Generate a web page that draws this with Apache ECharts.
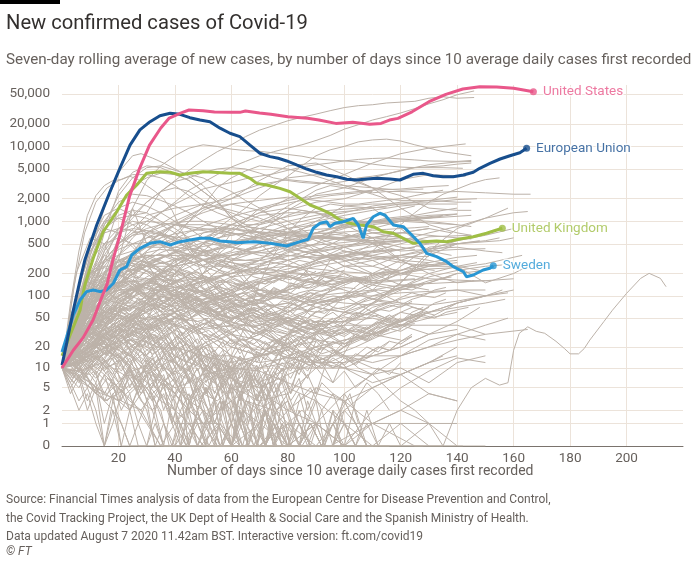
<!DOCTYPE html>
<html><head><meta charset="utf-8">
<script src="https://cdn.jsdelivr.net/npm/echarts@6/dist/echarts.min.js"></script>
<style>html,body{margin:0;padding:0;background:#fff}#c{width:700px;height:563px}</style>
</head><body><div id="c"></div>
<script>
// ---- tick labels ----
const yTicks = [0,1,2,5,10,20,50,100,200,500,1000,2000,5000,10000,20000,50000];
const xTicks = [20,40,60,80,100,120,140,160,180,200];

// ---- highlighted series: [day, 7-day avg new cases] ----
const usData = [[0,10],[4,18],[7.5,27],[11,47],[14.5,105],[16,145],[18,300],[20.5,650],[24,2200],[27.5,5100],[31,10400],[35,17600],[38,23900],[42,27900],[45,30600],[50,30000],[54,28800],[60,28600],[63,28500],[65,29700],[70,28000],[74,26800],[80,24900],[87,23700],[91,22500],[97,20300],[103,21000],[109,19700],[113,20300],[116,22500],[119,23700],[124,29000],[130,39500],[136,49600],[142,58400],[148,62700],[154,62100],[160,59700],[165,55500],[167,53700]];
const euData = [[0,11],[1.7,23],[4,64],[6.4,163],[8.1,303],[8.7,354],[12.3,892],[17,2480],[20.5,5100],[24.1,10400],[27.6,16600],[31.2,21400],[34.7,25700],[38.3,27700],[41.8,26800],[45.3,24200],[48.9,22500],[52.4,21400],[56,17500],[59.5,15000],[63,13500],[66.6,10400],[70.1,8100],[73.7,7300],[76.6,6940],[79.6,6390],[83.1,5650],[86.7,4990],[90.2,4510],[93.7,4150],[97.3,3940],[100.9,3640],[104.4,3560],[107.9,3670],[111.5,3750],[116.2,3670],[119.7,3560],[124.4,4240],[128,4370],[131.5,4060],[135,3940],[138.6,3940],[142.2,4150],[145.7,4510],[148,5100],[151.6,5950],[155.2,6790],[158.7,7510],[162.2,8240],[164.6,9440]];
const ukData = [[0,15],[3,30],[6.4,64],[7.5,109],[8.1,140],[11.1,323],[14.6,725],[19.4,1340],[22.9,2240],[26.5,3050],[30,4370],[34.7,4590],[38.3,4510],[41.8,4150],[45.3,4370],[50,4590],[53.6,4510],[59.5,4370],[63,4370],[66.6,3750],[69,3210],[72.5,3050],[77.2,2750],[80.8,2480],[84.3,2030],[87.9,1650],[91.4,1460],[94.9,1280],[98.5,1040],[102,940],[105.6,892],[110.3,847],[113.8,725],[117.4,690],[120.9,592],[124.4,507],[128,534],[132.7,545],[136.3,534],[141,580],[145.7,622],[150.4,691],[154,765],[156,806]];
const seData = [[0,17],[1.7,28],[4,55],[6.4,88],[8.7,114],[11.1,120],[13.5,114],[15.8,120],[18.2,148],[20.5,223],[22.9,247],[24.7,354],[27.6,435],[31.2,507],[34.7,534],[38.3,482],[41.8,534],[45.3,562],[48.9,592],[52.4,592],[56,545],[59.5,534],[61.9,517],[67.8,534],[73.7,507],[79.6,467],[84.3,534],[87.2,574],[89,806],[91.4,940],[93.8,987],[94.9,847],[96.7,940],[99.6,987],[103.2,1095],[105,892],[106.7,592],[107.9,892],[110.3,1150],[112.6,1280],[114.4,1210],[117.4,892],[120.9,847],[123.3,691],[126.8,507],[129.2,373],[132.7,336],[136.3,288],[138.6,247],[142.2,211],[143.3,181],[145.7,191],[149.2,223],[151.6,235],[152.8,254]];
const highlightNames = ['United Kingdom','Sweden','European Union','United States'];

// ---- grey background lines (other countries), [day, value] pairs ----
const greyLarge = [
[[0,10],[3,80],[6,400],[9,1200],[12,2200],[15,3000],[18,3500],[21,3600],[24,4000],[27,3600],[30,3000],[33,2500],[36,2000],[39,1400],[42,800],[45,500],[50,180],[55,80],[60,40],[65,25],[70,30],[75,40],[80,50],[85,45],[90,35],[95,20],[100,15],[105,10],[110,8],[115,5],[120,3],[125,2],[130,1],[135,0],[140,2],[145,5],[150,7],[155,5.5],[158,6],[160,18],[162,31],[165,38],[168,33],[171,31],[175,24],[178,19],[180,16],[183,16],[185,19],[187,25],[192,45],[195,64],[200,108],[205,172],[208,201],[212,172],[214,133]],
[[0,10],[5,60],[10,250],[15,900],[20,2200],[25,3800],[30,5200],[35,5500],[40,4800],[45,4200],[50,3800],[55,3000],[60,2500],[65,1900],[70,1500],[75,1100],[80,800],[85,550],[90,400],[95,320],[100,250],[105,220],[110,190],[115,210],[120,200],[130,230],[140,240],[150,270],[160,330],[163,350]],
[[0,10],[5,60],[10,350],[15,1500],[20,4500],[25,7500],[28,8000],[32,7000],[36,6000],[40,5000],[45,4000],[50,3000],[55,1900],[60,1100],[65,800],[70,500],[75,350],[80,300],[85,250],[90,150],[95,300],[100,350],[105,300],[110,400],[115,600],[120,900],[125,1300],[130,1800],[135,2300],[140,2700],[145,3200],[150,3600],[155,3800]],
[[0,10],[5,40],[10,150],[15,700],[20,2500],[25,4500],[30,5500],[35,5200],[40,4300],[45,3500],[50,2500],[55,1800],[60,1200],[65,900],[70,700],[75,600],[80,500],[85,400],[90,350],[95,330],[100,350],[105,400],[110,500],[115,450],[120,400],[130,420],[140,550],[150,650],[160,800]],
[[0,10],[5,30],[10,100],[15,400],[20,1500],[25,3000],[30,3800],[35,4400],[40,4200],[45,3500],[50,2500],[55,1800],[60,1100],[65,800],[70,700],[75,500],[80,420],[90,380],[100,450],[110,500],[120,550],[130,700],[140,850],[150,1100],[158,1500]],
[[0,10],[5,80],[10,500],[15,1200],[20,1500],[25,1200],[30,1300],[35,2500],[40,2800],[45,2500],[50,1900],[55,1500],[60,1300],[65,1100],[70,1000],[75,1200],[80,1600],[85,2000],[90,2600],[95,3000],[100,2800],[105,2600],[110,2400],[115,2500],[120,2500],[130,2400],[140,2500],[150,2400],[160,2300],[166,2300]],
[[0,10],[4,120],[8,700],[12,1800],[16,2800],[20,3500],[25,4200],[30,4200],[35,3800],[40,3000],[45,2200],[50,1600],[55,1300],[60,1100],[65,900],[70,900],[75,1000],[80,1200],[85,1400],[90,1300],[95,1200],[100,1100],[105,1000],[110,950],[115,950],[120,1000],[125,1100],[134,1150]],
[[0,10],[5,40],[10,150],[15,350],[20,700],[25,1100],[30,1800],[35,2500],[40,3500],[45,4800],[50,6500],[55,8500],[60,10500],[65,13500],[70,16500],[75,19000],[80,22000],[85,24500],[90,27000],[95,30000],[100,33000],[105,35000],[110,36000],[115,38000],[120,39000],[125,40000],[130,44000],[135,46000],[140,44000],[146,45000]],
[[0,10],[5,40],[10,100],[15,300],[20,500],[25,700],[30,1000],[35,1300],[40,1800],[45,2600],[50,3300],[55,4200],[60,5300],[65,6300],[70,7500],[75,8500],[80,9500],[85,10500],[90,12000],[95,14000],[100,17000],[105,19500],[110,22500],[115,25000],[120,28000],[125,32000],[130,37000],[135,42000],[140,49000],[146,55000]],
[[0,10],[5,30],[10,60],[15,200],[20,600],[25,1500],[30,3500],[35,5500],[40,7500],[45,9500],[50,10500],[55,10000],[60,9200],[65,8800],[70,8600],[75,8200],[80,7800],[85,7400],[90,6800],[95,6600],[100,6400],[105,6200],[110,5800],[115,5500],[120,5300],[125,5200],[135,5200],[142,5100]],
[[0,10],[5,30],[10,60],[15,150],[20,350],[25,600],[30,900],[35,1300],[40,1700],[45,2100],[50,2700],[55,3000],[60,3300],[65,3700],[70,4000],[75,4300],[80,4800],[85,5300],[90,5700],[95,6000],[100,6400],[105,6700],[110,6900],[115,7000],[120,6800],[125,6600],[130,6400],[140,6300],[145,6500]],
[[0,10],[5,40],[10,120],[15,300],[20,800],[25,1200],[30,1800],[35,2500],[40,3400],[45,3800],[50,4500],[55,5000],[60,5200],[65,5000],[70,4400],[75,3800],[80,3500],[85,3300],[90,3200],[95,3200],[100,3400],[105,3800],[110,4000],[115,4300],[120,4700],[125,5200],[135,5500],[140,5800],[145,6000]],
[[0,10],[5,60],[10,200],[15,300],[20,350],[25,400],[30,450],[35,500],[40,600],[45,1000],[50,1600],[55,2800],[60,3800],[65,4700],[70,5500],[75,5200],[80,5000],[85,4500],[90,4000],[95,3500],[100,3000],[105,2600],[110,2300],[115,2000],[120,1900],[130,1900],[140,1800],[145,1800]],
[[0,10],[5,60],[10,150],[15,130],[20,80],[25,70],[30,100],[35,150],[40,250],[45,350],[50,500],[55,800],[60,1100],[65,1500],[70,2200],[75,3000],[80,4000],[85,5500],[90,7500],[95,9000],[100,10000],[105,11500],[110,12200],[115,12500],[120,11800],[125,10500],[130,9500],[135,8500],[145,7500]],
[[0,10],[10,60],[20,150],[30,250],[40,400],[50,600],[60,900],[70,1300],[80,2000],[90,3000],[100,4200],[110,6000],[120,8000],[130,9500],[140,10500],[143,10800]],
[[0,10],[10,80],[20,120],[30,120],[40,150],[50,250],[60,500],[70,900],[80,1400],[90,2300],[100,2800],[110,3800],[120,4800],[130,5700],[140,6200],[145,6300]],
[[0,10],[10,100],[20,130],[30,700],[40,1200],[50,1700],[60,2000],[70,2800],[80,3800],[90,4200],[100,3800],[110,2800],[120,2200],[130,1500],[140,1400],[145,1400]],
[[0,10],[10,150],[20,200],[30,400],[40,700],[50,1400],[60,2000],[70,3500],[80,5500],[90,6000],[100,4200],[110,2800],[120,1500],[130,900],[140,700],[145,650]],
[[0,10],[10,70],[20,200],[30,500],[40,900],[50,1500],[60,2300],[70,3100],[80,3600],[90,3300],[100,3000],[110,2800],[120,2600],[128,2700]],
[[0,10],[10,150],[20,300],[30,250],[40,200],[50,300],[60,400],[70,700],[80,1400],[90,1800],[100,2000],[110,2600],[120,3600],[130,4200],[143,4000]]
];
const greyMid = [
[[0,10],[5,80],[10,250],[15,800],[20,1200],[25,1400],[30,1300],[35,1000],[40,800],[45,600],[50,400],[55,300],[60,250],[65,150],[70,100],[80,90],[90,80],[100,90],[110,120],[120,250],[130,450],[140,500],[150,550],[155,600]],
[[0,10],[5,100],[10,400],[15,800],[20,1100],[25,1200],[30,1100],[35,900],[40,700],[45,450],[50,300],[55,230],[60,180],[70,120],[80,100],[90,70],[100,60],[110,80],[120,150],[130,350],[140,500],[155,550],[160,600]],
[[0,10],[10,60],[20,500],[30,1200],[40,1500],[50,1700],[60,1400],[70,1100],[80,800],[90,550],[100,400],[110,330],[120,350],[130,430],[140,450],[150,400],[156,380]],
[[0,10],[5,100],[10,400],[15,700],[20,800],[25,750],[30,650],[35,500],[40,400],[45,300],[50,250],[60,250],[70,300],[80,350],[90,330],[100,320],[110,250],[120,200],[130,170],[145,160],[152,160]],
[[0,10],[5,60],[10,300],[15,500],[20,600],[25,500],[30,300],[35,200],[40,120],[45,60],[50,20],[55,15],[60,15],[65,40],[70,150],[75,350],[80,700],[85,1100],[90,1500],[95,1700],[100,1600],[110,1700],[120,1700],[140,1700]],
[[0,10],[10,20],[20,35],[30,50],[40,200],[50,500],[60,300],[70,100],[80,40],[90,30],[100,40],[110,80],[120,150],[130,400],[140,800],[150,1100],[160,1300],[165,1350]],
[[0,10],[5,200],[10,600],[15,500],[20,200],[30,100],[40,70],[50,25],[60,10],[70,15],[80,30],[90,45],[100,45],[110,50],[120,40],[130,40],[140,40],[150,30],[165,35]],
[[0,10],[10,40],[20,100],[30,180],[40,280],[50,500],[60,900],[70,1300],[80,1500],[90,1300],[100,900],[110,600],[120,300],[130,200],[140,150],[146,160]],
[[0,10],[10,70],[20,150],[30,250],[40,300],[50,350],[60,500],[70,650],[80,900],[90,1100],[100,1300],[110,1600],[120,1800],[130,1800],[140,1950],[147,2000]],
[[0,10],[10,60],[20,300],[30,450],[40,450],[50,400],[60,450],[70,650],[80,800],[90,900],[100,900],[110,1000],[120,1100],[130,1100],[140,1250]],
[[0,10],[10,40],[20,200],[30,700],[40,1000],[50,1500],[60,1700],[70,1400],[80,1000],[90,600],[100,450],[110,330],[120,280],[130,250],[138,270]],
[[0,10],[10,120],[20,300],[25,1500],[30,500],[35,700],[40,400],[50,600],[60,450],[70,350],[80,300],[90,400],[100,450],[110,600],[120,700],[130,800],[138,700]],
[[0,10],[15,30],[30,60],[40,100],[50,200],[60,350],[70,500],[80,800],[90,1000],[100,1200],[110,1400],[120,1600],[128,1700]],
[[0,10],[10,30],[20,50],[30,50],[40,60],[50,200],[60,700],[70,1500],[80,1900],[90,2200],[100,2400],[110,2600],[120,2700],[130,2900],[137,3000]],
[[0,10],[10,40],[20,90],[30,140],[40,300],[50,400],[60,300],[70,300],[80,600],[90,1000],[100,1600],[110,1500],[120,800],[130,400],[138,250]],
[[0,10],[10,90],[20,250],[30,350],[40,350],[50,250],[60,180],[70,200],[80,300],[90,400],[100,600],[110,800],[120,1000],[130,1100],[145,1200]],
[[0,10],[10,80],[20,300],[30,350],[40,350],[50,350],[60,350],[70,380],[80,350],[90,320],[100,340],[110,400],[120,500],[130,620],[145,650]],
[[0,10],[5,100],[10,500],[15,1000],[20,1100],[25,900],[30,700],[35,500],[40,300],[45,150],[50,70],[55,40],[60,25],[65,25],[70,30],[80,60],[90,100],[100,110],[110,120],[120,140],[150,160],[160,170]],
[[0,10],[5,100],[10,450],[15,800],[20,700],[25,450],[30,300],[35,120],[40,60],[45,40],[50,35],[60,40],[70,40],[80,60],[90,80],[100,100],[110,100],[120,110],[140,120],[150,120]],
[[0,10],[5,80],[10,200],[15,300],[20,500],[25,700],[30,750],[35,700],[40,600],[45,400],[50,250],[55,150],[60,80],[65,50],[70,35],[80,20],[90,12],[100,12],[110,15],[120,20],[140,45],[148,70]],
[[0,10],[10,30],[20,60],[30,400],[40,900],[50,800],[60,700],[70,600],[80,500],[90,400],[100,250],[110,250],[120,350],[130,300],[140,250],[150,150],[160,200],[165,250]],
[[0,10],[10,100],[20,200],[30,250],[40,250],[50,300],[60,350],[70,400],[80,500],[90,700],[100,900],[110,1000],[120,1000],[130,950],[140,900]],
[[0,10],[10,100],[20,150],[30,170],[40,160],[50,170],[60,200],[70,300],[80,550],[90,700],[100,900],[110,1000],[120,1050],[130,1000],[140,900],[145,850]],
[[0,10],[10,15],[20,25],[30,40],[40,60],[50,150],[60,300],[70,500],[80,700],[90,900],[100,1000],[110,1000],[118,900]],
[[0,10],[10,30],[20,40],[30,60],[40,100],[50,200],[60,350],[70,450],[80,600],[90,700],[100,650],[110,600],[120,550],[130,500]],
[[0,10],[10,30],[20,60],[30,100],[40,200],[50,400],[60,800],[70,1200],[80,1300],[90,1300],[100,1000],[110,700],[120,600],[130,400],[138,350]],
[[0,10],[10,40],[20,80],[30,150],[40,300],[50,700],[60,900],[70,800],[80,700],[90,650],[100,600],[110,700],[120,700],[130,650],[140,600],[145,580]],
[[0,10],[10,50],[20,250],[30,450],[40,550],[50,700],[60,800],[70,650],[80,450],[90,350],[100,350],[110,300],[120,200],[130,250],[140,250],[148,220]],
[[0,10],[10,60],[20,250],[30,600],[40,900],[50,900],[60,800],[70,700],[80,600],[90,450],[100,300],[110,200],[120,140],[130,120]],
[[0,10],[10,20],[20,60],[30,150],[40,250],[50,300],[60,380],[70,450],[80,550],[90,600],[100,580],[110,550],[120,450],[125,420]],
[[0,10],[10,60],[20,150],[30,160],[40,120],[50,80],[60,100],[70,250],[80,400],[90,500],[100,900],[110,1000],[120,1100],[130,1200],[140,1250]],
[[0,10],[10,60],[20,100],[30,150],[40,130],[50,180],[60,150],[70,120],[80,200],[90,300],[100,450],[110,550],[120,600],[130,550],[140,500]],
[[0,10],[10,20],[20,80],[30,150],[40,200],[50,150],[60,300],[70,400],[80,500],[90,600],[100,700],[110,500],[120,300],[125,250]],
[[0,10],[10,80],[20,250],[30,350],[40,250],[50,100],[60,70],[70,80],[80,120],[90,300],[100,400],[110,350],[120,300],[130,280]],
[[0,10],[10,30],[20,100],[30,150],[40,130],[50,150],[60,200],[70,250],[80,300],[90,350],[100,300],[110,320],[120,330],[130,340]],
[[0,10],[5,100],[10,200],[15,250],[20,250],[25,300],[30,250],[35,170],[40,130],[50,110],[60,80],[70,60],[80,40],[90,35],[100,40],[110,40],[120,60],[130,50],[140,80],[150,100],[158,110]],
[[0,10],[5,80],[10,200],[15,240],[20,200],[25,150],[30,100],[40,60],[50,30],[60,15],[70,12],[80,14],[90,15],[100,15],[110,12],[120,15],[130,20],[140,30],[150,40],[158,50]],
[[0,10],[5,30],[10,60],[15,100],[20,120],[30,130],[40,100],[50,50],[60,30],[70,25],[80,15],[90,10],[100,10],[110,8],[120,10],[130,6],[140,12],[150,15]],
[[0,10],[5,60],[10,200],[15,350],[20,300],[25,200],[30,100],[35,50],[40,20],[50,15],[60,12],[70,15],[80,20],[90,40],[100,100],[110,200],[120,300],[130,400],[140,420],[150,430]],
[[0,10],[10,40],[20,60],[30,80],[40,30],[50,15],[60,10],[70,10],[80,15],[90,20],[100,25],[110,30],[120,40],[130,60],[140,80],[150,100]],
[[0,10],[10,100],[20,250],[30,200],[40,100],[50,60],[60,50],[70,70],[80,80],[90,130],[100,200],[110,150],[120,130],[130,150],[140,200],[150,220]],
[[0,10],[10,50],[20,70],[30,40],[40,20],[50,10],[60,3],[70,1],[80,30],[90,80],[100,100],[110,60],[120,40],[130,50],[140,60]],
[[0,10],[10,20],[20,40],[30,80],[40,200],[50,500],[60,700],[70,600],[80,400],[90,300],[100,200],[110,120],[120,80],[130,60]]
];
const greySmall = [
[[0,10],[5,25],[10,60],[15,90],[20,80],[25,50],[30,30],[35,20],[40,8],[45,3],[50,1],[55,0],[60,0],[70,1],[80,0],[90,0],[100,2],[110,5],[120,8],[130,4],[140,3]],
[[0,10],[5,40],[10,80],[15,120],[20,150],[25,130],[30,100],[40,60],[50,30],[60,15],[70,10],[80,12],[90,20],[100,40],[110,70],[120,90],[130,110],[140,120],[150,100]],
[[0,10],[7,18],[14,30],[21,40],[28,35],[35,22],[42,10],[49,5],[56,0],[60,0],[65,3],[75,2],[85,0],[95,0],[110,1],[125,0],[140,0]],
[[0,10],[5,20],[10,35],[15,45],[20,70],[25,110],[30,160],[40,260],[50,380],[60,520],[70,600],[80,700],[90,780],[100,820],[110,900],[120,1000],[127,1050]],
[[0,10],[5,15],[10,12],[15,18],[20,30],[25,45],[30,70],[40,100],[50,140],[60,220],[70,300],[80,260],[90,200],[100,180],[110,150],[120,160],[128,170]],
[[0,10],[4,14],[8,8],[12,5],[16,4],[20,6],[25,12],[30,18],[35,25],[40,40],[50,60],[60,90],[70,150],[80,200],[90,280],[100,350],[110,400],[118,420]],
[[0,10],[5,18],[10,25],[15,20],[20,12],[25,6],[30,2],[33,0],[40,0],[45,1],[50,0],[60,0],[80,0],[90,1],[100,0],[120,0],[135,0]],
[[0,10],[5,30],[10,55],[15,60],[20,55],[25,45],[30,35],[35,40],[40,50],[50,80],[60,110],[70,160],[80,200],[90,190],[100,170],[110,140],[120,120],[130,150],[140,200]],
[[0,10],[6,12],[12,15],[18,10],[24,7],[30,9],[36,15],[42,25],[48,35],[54,40],[60,38],[70,30],[80,20],[90,15],[100,10],[110,6],[120,8],[130,12],[140,15]],
[[0,10],[5,25],[10,45],[15,40],[20,30],[25,20],[30,15],[35,8],[40,4],[45,2],[50,1],[55,0],[65,0],[70,2],[80,5],[90,3],[100,1],[110,0],[120,0],[130,1]],
[[0,10],[5,20],[10,40],[15,70],[20,100],[25,130],[30,150],[35,160],[40,140],[45,110],[50,80],[55,60],[60,50],[70,45],[80,50],[90,70],[100,90],[110,140],[120,200],[130,280],[140,330],[147,350]],
[[0,10],[5,12],[10,20],[15,28],[20,40],[25,55],[30,65],[40,75],[50,60],[60,40],[70,30],[80,45],[90,70],[100,60],[110,55],[120,40],[130,30]],
[[0,10],[5,8],[10,6],[15,4],[20,3],[25,5],[30,8],[40,14],[50,22],[60,35],[70,50],[80,70],[90,110],[100,150],[108,170]],
[[0,10],[5,16],[10,22],[15,18],[20,15],[25,10],[30,6],[35,3],[40,2],[45,0],[50,0],[55,1],[60,0],[75,0],[90,0],[100,0],[110,1],[120,2],[130,1],[140,0],[150,0]],
[[0,10],[5,22],[10,38],[15,55],[20,65],[25,70],[30,60],[35,45],[40,30],[45,20],[50,12],[55,8],[60,5],[65,4],[70,3],[80,4],[90,10],[100,20],[110,35],[120,45],[130,60],[140,70],[150,80],[157,90]],
[[0,10],[5,14],[10,18],[20,30],[30,50],[40,80],[50,120],[60,180],[70,260],[80,380],[90,500],[100,620],[110,700],[117,720]],
[[0,10],[4,20],[8,35],[12,30],[16,20],[20,15],[25,8],[30,5],[35,2],[38,0],[42,0],[50,2],[55,0],[65,0],[70,0],[80,0],[90,1],[100,0],[110,0],[130,0],[142,0]],
[[0,10],[5,30],[10,70],[15,110],[20,150],[25,180],[30,170],[35,140],[40,110],[45,80],[50,50],[55,30],[60,20],[70,15],[80,18],[90,30],[100,60],[110,100],[120,130],[130,200],[140,250],[147,280]],
[[0,10],[6,9],[12,11],[18,14],[24,20],[30,28],[36,40],[42,55],[48,70],[54,90],[60,100],[70,120],[80,110],[90,90],[100,80],[110,75],[115,80]],
[[0,10],[5,18],[10,30],[15,35],[20,25],[25,18],[30,12],[35,7],[40,5],[45,6],[50,8],[60,10],[70,9],[80,6],[90,4],[100,3],[110,5],[120,8],[130,12],[140,20]],
[[0,10],[5,25],[10,50],[15,80],[20,110],[25,120],[30,100],[35,70],[40,50],[45,30],[50,18],[55,10],[60,5],[65,3],[70,2],[75,1],[80,0],[85,0],[90,1],[100,4],[110,8],[120,15],[130,25],[140,30],[150,25]],
[[0,10],[3,12],[6,9],[9,7],[12,5],[15,3],[18,2],[21,1],[24,0],[28,0],[35,0],[40,1],[50,1],[60,3],[70,6],[80,10],[90,18],[100,25],[110,30],[120,40],[125,42]],
[[0,10],[5,35],[10,90],[15,200],[20,300],[25,350],[30,330],[35,280],[40,250],[45,200],[50,160],[55,130],[60,100],[70,80],[80,70],[90,60],[100,70],[110,90],[120,130],[130,180],[140,220],[150,250],[156,260]],
[[0,10],[5,17],[10,26],[15,35],[20,45],[25,60],[30,80],[35,100],[40,90],[45,70],[50,50],[55,35],[60,25],[65,20],[70,18],[80,22],[90,30],[100,35],[110,30],[120,25]],
[[0,10],[7,6],[14,4],[21,3],[28,2],[35,0],[42,0],[49,0],[56,1],[63,0],[70,0],[80,0],[90,0],[100,0]],
[[0,10],[5,20],[10,15],[15,10],[20,12],[25,18],[30,30],[35,45],[40,60],[45,70],[50,80],[55,75],[60,65],[70,50],[80,35],[90,25],[100,15],[110,10],[120,8],[130,12],[135,15]],
[[0,10],[5,28],[10,65],[15,130],[20,220],[25,300],[30,380],[35,420],[40,400],[45,360],[50,310],[55,270],[60,240],[70,200],[80,180],[90,150],[100,120],[110,90],[120,80],[130,75],[140,85],[150,100],[156,120]],
[[0,10],[5,11],[10,13],[15,16],[20,21],[25,26],[30,24],[35,19],[40,12],[45,7],[50,4],[55,3],[60,5],[65,9],[70,15],[75,22],[80,30],[90,40],[100,55],[110,80],[120,120],[130,160],[138,180]],
[[0,10],[4,30],[8,40],[12,35],[16,25],[20,15],[24,10],[28,5],[32,2],[36,0],[40,0],[50,0],[60,0],[70,0],[80,2],[90,5],[100,3],[110,1],[120,2],[130,4],[140,3]],
[[0,10],[5,20],[10,45],[15,90],[20,160],[25,250],[30,330],[35,360],[40,320],[45,250],[50,180],[55,120],[60,90],[65,60],[70,40],[75,30],[80,20],[85,15],[90,12],[100,10],[110,15],[120,20],[130,30],[140,35]],
[[0,10],[8,14],[16,20],[24,28],[32,40],[40,50],[48,45],[56,35],[64,25],[72,18],[80,14],[88,12],[96,15],[104,20],[112,28],[120,35]],
[[0,10],[5,9],[10,8],[15,12],[20,20],[25,40],[30,80],[35,120],[40,160],[45,180],[50,170],[55,140],[60,110],[70,70],[80,50],[90,40],[100,45],[110,60],[118,75]],
[[0,10],[5,15],[10,20],[15,22],[20,18],[25,14],[30,9],[35,6],[40,4],[45,2],[50,1],[55,1],[60,0],[65,0],[70,1],[75,3],[80,2],[90,1],[100,0],[110,0],[120,1],[130,0]],
[[0,10],[5,40],[10,100],[15,180],[20,260],[25,300],[30,280],[35,230],[40,160],[45,100],[50,70],[55,60],[60,70],[70,90],[80,130],[90,180],[100,250],[110,300],[120,350],[130,400],[140,500],[148,550]],
[[0,10],[5,13],[10,18],[15,25],[20,35],[25,50],[30,70],[40,120],[50,160],[60,200],[70,230],[80,250],[90,230],[100,210],[110,200],[120,220],[130,260],[136,280]],
[[0,10],[5,8],[10,5],[15,3],[20,4],[25,6],[30,10],[35,14],[40,12],[45,9],[50,6],[55,4],[60,2],[65,1],[70,0],[75,0],[80,1],[85,2],[90,1],[100,0],[110,0]],
[[0,10],[5,24],[10,42],[15,50],[20,60],[25,55],[30,48],[35,50],[40,60],[50,90],[60,130],[70,170],[80,210],[90,270],[100,330],[110,380],[120,420],[130,500],[140,560],[145,600]],
[[0,10],[5,16],[10,12],[15,8],[20,5],[25,3],[30,1],[35,0],[40,0],[45,3],[50,6],[55,8],[60,7],[65,5],[70,3],[75,1],[80,0],[90,0],[100,0],[110,2],[120,5],[130,9],[140,14],[150,12]],
[[0,10],[5,50],[10,120],[15,160],[20,150],[25,120],[30,90],[35,60],[40,40],[45,25],[50,15],[55,10],[60,7],[70,5],[80,8],[90,12],[100,20],[110,30],[120,45],[130,60],[140,80],[150,100],[160,120]],
[[0,10],[5,19],[10,28],[15,24],[20,16],[25,9],[30,11],[35,17],[40,26],[45,35],[50,42],[55,48],[60,44],[70,36],[80,30],[90,25],[100,22],[110,30],[120,45],[130,70]],
[[0,10],[5,20],[10,35],[15,60],[20,90],[25,120],[30,160],[35,200],[40,260],[45,320],[50,380],[55,430],[60,480],[65,520],[70,560],[75,580]],
[[0,10],[5,15],[10,22],[15,30],[20,35],[25,33],[30,28],[35,20],[40,15],[45,12],[50,10],[55,8],[60,9],[65,12],[70,15],[80,20],[90,24]],
[[0,10],[5,12],[10,18],[15,28],[20,45],[25,60],[30,90],[35,120],[40,130],[45,120],[50,100],[55,90],[60,85],[65,90],[70,100],[80,120],[90,150],[100,170]],
[[0,10],[5,22],[10,30],[15,27],[20,20],[25,15],[30,10],[35,7],[40,5],[45,3],[50,2],[55,1],[60,0],[65,0],[70,0],[80,1],[90,0],[100,0],[110,0]],
[[0,10],[5,18],[10,30],[15,50],[20,80],[25,100],[30,110],[40,100],[50,90],[60,110],[70,150],[80,200],[90,250],[100,290],[110,350],[120,420],[125,450]],
[[0,10],[5,30],[10,60],[15,70],[20,40],[25,15],[30,8],[35,4],[40,2],[45,1],[50,0],[55,0],[60,0],[70,0],[80,1],[90,1],[100,1],[110,1],[120,1],[130,1],[140,1]],
[[0,10],[10,30],[20,80],[30,80],[40,60],[50,30],[60,20],[70,15],[80,10],[90,10],[100,15],[110,15],[120,15],[130,20],[140,25],[150,30]],
[[0,10],[10,20],[20,30],[30,15],[40,8],[50,20],[60,30],[70,15],[80,30],[90,60],[100,100],[110,150],[120,200],[130,250],[140,280]]
];
// noisier small-country lines, one value every JAG_STEP days from day 0
const JAG_STEP = 4;
const greyJagged = [
[10,18,25,40,33,50,45,60,38,30,42,25,18,22,12,8,10,5,3,6,2,0,1,0,0,2,1,0,0,1,0,0,0],
[10,22,45,60,85,120,100,140,160,130,110,150,120,90,100,80,70,85,60,55,70,90,110,95,130,150,170,160,180,200,190,210,230,220],
[10,8,12,9,6,4,7,3,2,4,1,0,0,1,3,2,0,0,0,1,0,0,0,2,4,3,1,0,0,0],
[10,30,70,90,150,180,220,260,240,200,230,180,150,170,120,100,110,90,80,70,60,75,90,100,120,140,160,150,170,200,220,250,270,260,290,300],
[10,15,25,20,35,45,30,55,70,60,80,95,75,60,50,65,45,30,35,25,20,28,18,12,15,20,30,25,40,55,45,60,70],
[10,12,7,5,9,3,2,6,4,1,0,0,2,0,0,1,5,8,3,0,0,0,1,0,0,0],
[10,40,90,130,110,160,140,100,120,80,70,60,90,75,50,40,55,35,30,25,30,20,28,35,30,45,60,55,70,80,75,90,100,95,110],
[10,14,20,28,22,35,48,40,62,80,70,95,120,110,140,170,150,200,240,220,260,300,280,330,360,340,380,400,390,420],
[10,25,35,20,15,25,12,8,14,6,4,8,3,1,0,0,2,1,0,0,0,3,5,2,0,0,0,1,0],
[10,35,80,120,150,190,170,140,160,120,100,80,95,70,55,40,48,35,28,22,26,18,14,20,16,24,30,26,35,42,38,50,60,55],
[10,11,13,10,16,20,15,24,30,26,35,40,32,45,55,48,60,70,62,75,80,72,85,90,100,95,110,105],
[10,50,120,200,170,220,260,230,200,180,150,160,120,110,90,100,80,60,70,50,45,55,40,35,45,60,55,70,85,80,95,110,100,120,130],
[10,6,9,4,3,5,2,4,8,6,3,1,0,2,0,0,4,7,5,2,1,0,0,0,1,3,1,0,0],
[10,20,30,25,45,55,40,70,85,65,90,75,60,70,50,45,38,30,35,25,22,28,20,16,18,14,12,16,20,18,24,30],
[10,16,28,45,70,60,90,110,95,130,150,120,140,110,100,120,90,80,95,70,60,75,55,50,60,45,40,50,55,48,60,70,65,80,90],
[10,28,40,32,20,12,16,8,5,10,6,3,5,2,0,1,0,3,1,0,0,0,2,6,4,1,0],
[10,9,14,18,12,22,30,26,40,35,50,45,60,52,70,80,72,90,85,100,95,110,120,115,125],
[10,45,100,160,220,250,210,240,190,160,170,130,110,120,90,75,85,65,55,60,45,40,48,35,30,38,28,25,32,40,36,45,55,50,60,65,70],
[10,15,8,12,18,14,25,20,30,24,18,22,14,10,12,7,5,8,4,2,3,1,0,0,1,0,0,2,0,0],
[10,24,38,55,48,70,90,75,100,120,105,130,115,100,110,85,70,80,60,55,65,50,42,48,38,45,55,50,65,75,70,85],
[10,13,17,22,19,27,35,30,42,50,44,58,65,58,70,62,55,60,50,45,52,40,35,40,32,28,35,30,38,45],
[10,30,55,40,25,35,18,12,20,10,6,9,4,2,5,1,0,0,2,0,0,0,1,0,0,4,2,0],
[10,20,45,80,120,170,230,300,270,330,380,350,300,320,270,240,260,220,200,210,180,160,170,150,140,160,180,170,200,230,220,250],
[10,7,11,16,12,20,26,22,18,24,15,12,16,9,7,10,5,3,6,2,4,1,0,0,0,1,0,0],
[10,18,32,26,40,55,48,66,80,72,90,105,95,115,130,120,140,155,145,165,180,170,190,210,200,220],
[10,42,75,110,90,130,160,140,115,130,95,80,90,65,55,62,45,38,42,30,26,32,22,18,24,20,28,35,30,40,48,44,55],
[10,12,16,14,10,13,8,6,9,5,7,4,3,5,2,3,1,2,0,1,0,0,0,0,2,1,0],
[10,26,50,85,130,190,260,230,290,340,300,360,320,280,300,250,220,240,200,180,190,160,150,165,140,155,175,165,190,210],
[10,17,24,19,28,36,30,42,36,48,40,35,42,30,26,32,22,18,24,16,14,18,12,10,14,11,15,20,17,24],
[10,9,7,12,8,5,10,6,3,7,4,2,5,1,3,0,1,0,0,2,0,0,1,0,0,0,3,6,4,2],
[10,35,60,95,80,120,150,130,170,200,180,220,190,160,175,140,120,135,110,95,105,85,75,85,70,65,80,95,90,110,125,120,140],
[10,15,22,30,26,36,44,38,50,45,38,44,32,28,34,24,20,26,18,15,19,13,11,14,10,12,16,14,19,24,22,28],
[10,28,45,70,60,85,100,88,110,95,80,90,70,62,70,55,48,55,42,38,44,34,30,36,28,32,40,36,46,55],
[10,11,9,13,17,14,20,25,21,28,34,30,38,44,40,48,55,50,58,52,46,50,42,38,44,36,32,38,30,34],
[10,60,140,220,300,280,340,300,260,280,220,190,210,170,150,160,130,115,125,100,90,100,85,80,90,100,95,110,120,115,130,140],
[10,14,19,15,22,18,26,21,16,20,12,9,13,7,5,8,3,2,4,1,0,2,0,0,0,1,0],
[10,20,32,48,42,60,75,68,85,100,90,110,95,80,88,70,60,68,52,45,50,40,35,42,34,30,36,32,40,48,44,52,60],
[10,8,6,4,7,5,3,2,4,6,9,7,12,16,13,20,26,22,30,36,32,40,46,42,50],
[10,36,66,50,80,105,90,120,140,125,100,110,85,75,82,62,55,60,45,40,46,35,30,34,26,22,28,24,30,36,33,40],
[10,16,12,20,26,22,30,38,34,44,52,46,58,66,60,72,80,74,86,95,88,100,110,104,118,130,125],
[10,22,40,34,55,70,62,82,95,85,105,92,78,86,70,62,68,54,48,52,42,36,40,32,28,34,30,36,44,40,50],
[10,12,8,14,10,6,9,4,6,3,1,2,0,0,1,0,0,0,0,2,3,1,0,0,0,0],
[10,25,55,95,150,210,190,250,300,270,320,290,250,270,220,200,215,180,165,175,150,140,155,135,145,165,155,180,200,190,220],
[10,18,14,24,30,26,36,44,38,50,58,52,64,56,48,54,44,38,42,34,30,35,28,24,28,22,26,32,28,36],
[10,9,15,20,16,25,32,27,38,33,42,36,30,34,26,22,26,18,15,18,12,10,13,8,6,9,5,7,10,8,12],
[10,30,48,38,60,75,65,85,72,60,68,52,45,50,38,32,36,26,22,25,18,15,18,12,10,14,11,16,20,18,24,28],
[10,13,18,25,21,30,40,35,48,58,52,66,76,68,82,92,85,100,112,104,120,135,128,145,160,150,170,185],
[10,40,85,70,110,140,120,150,130,110,120,95,85,92,75,66,72,58,52,56,46,42,48,40,44,52,48,58,66,62,72,80],
[10,17,11,7,12,8,4,6,3,5,2,0,1,0,0,0,2,0,0,0,0,1,0],
[10,21,34,28,44,56,50,64,76,68,82,72,62,68,56,50,54,44,40,44,36,32,36,30,28,32,38,35,42,50,46,55,62]
];
// more small/medium countries, one value every JAG_STEP2 days from day 0
const JAG_STEP2 = 3;
const greyLow = [
[10,6,3,5,2,0,1,4,8,5,12,7,3,1,0,0,2,5,3,0,0,1,0,0,3,6,2,0,0,0,1,0,0,2,4,1],
[10,15,9,20,14,25,18,30,22,16,24,12,18,9,14,6,10,4,7,2,5,1,3,0,2,0,1,0,0,3,1,0,2,0],
[10,20,35,28,45,38,60,50,42,55,35,44,30,24,32,20,26,15,18,11,14,8,12,6,9,4,7,3,5,8,4,10,6,12,9],
[10,7,12,5,9,3,6,2,4,1,3,0,1,0,0,2,0,1,0,0,0,4,2,0,0,1,0,0,0,0],
[10,12,18,14,22,30,24,36,28,40,33,26,35,22,28,17,21,12,16,9,13,7,10,5,8,4,6,2,4,1,3,0,1,0],
[10,25,16,32,24,40,30,48,38,28,36,22,30,18,24,14,19,10,15,7,11,5,9,3,6,2,8,4,12,7,15,10,18,14,22],
[10,5,8,3,6,1,4,0,2,0,0,1,0,3,5,2,7,4,9,5,3,1,0,0,2,0,0,0,1,0],
[10,14,11,17,13,20,16,12,18,9,14,7,11,5,8,3,6,10,7,13,9,15,11,8,12,6,10,4,7,2,5],
[10,30,22,45,35,55,42,34,48,30,38,24,30,18,24,13,17,9,13,6,10,4,8,3,6,11,8,14,10,17,13,20],
[10,8,13,9,15,11,7,12,5,9,3,7,2,5,0,3,1,0,0,2,6,3,9,5,2,0,0,1],
[10,18,26,20,32,26,38,30,24,34,20,28,16,22,12,18,9,14,6,11,4,8,13,9,16,12,20,15,24,19,28],
[10,4,7,2,5,0,3,1,0,0,0,2,0,0,1,0,0,0,3,1,0,0,0,0,2,0],
[10,16,24,38,30,48,40,60,50,70,58,45,55,40,48,32,38,25,30,20,26,16,22,12,18,26,20,30,24,34],
[10,9,14,10,18,13,22,17,12,16,8,12,6,9,4,7,2,5,1,3,0,2,0,0,1,4,2,0,0],
[10,28,40,32,52,44,66,54,44,58,38,48,30,38,22,30,17,24,13,18,9,14,7,11,5,9,14,10,18,13,24,18],
[10,6,10,7,4,8,3,6,2,5,9,6,12,8,4,7,2,5,1,3,0,2,0,0,0,1,0],
[10,13,19,15,24,19,30,24,18,26,15,21,12,17,9,14,6,11,4,8,2,6,1,4,0,3,7,5,10,7],
[10,20,14,26,20,34,26,42,34,26,36,22,30,17,24,13,20,10,16,7,13,5,10,3,8,13,9,16,12,20,15,25,20],
[10,11,7,12,8,13,9,5,10,4,8,2,6,1,4,0,2,0,0,3,1,0,0,0,2,0,0],
[10,24,36,28,44,36,54,44,36,48,30,40,24,32,18,26,14,20,10,16,7,12,5,10,3,8,12,9,15,11],
[10,7,5,9,6,12,8,15,11,19,14,10,15,8,12,6,10,4,8,2,6,1,4,0,2,0,1,0,0],
[10,17,12,22,16,28,21,34,26,20,28,16,22,12,18,9,15,6,12,4,9,3,7,2,5,9,6,12,8,15,11],
[10,35,50,40,62,52,75,62,50,64,44,54,36,46,28,38,22,30,17,24,13,20,10,16,8,13,20,15,24,19,30,24],
[10,5,2,4,1,0,2,0,0,1,0,0,0,0,2,4,1,0,0,0,1,0,0,0,0],
[10,12,16,13,20,16,25,20,15,22,12,17,9,13,6,10,4,8,12,9,15,11,18,14,22,17,26,21],
[10,22,16,12,18,9,14,6,11,4,8,2,6,1,4,0,2,5,3,7,4,1,0,0,0,2,0,0],
[10,14,20,26,21,30,24,36,29,22,30,18,24,14,19,10,15,7,12,5,9,14,10,17,13,21,16,26],
[10,9,6,11,8,4,7,3,9,6,13,9,16,12,8,11,5,8,3,6,1,4,0,2,0,0,1,0],
[10,19,28,22,34,27,42,34,27,37,23,30,18,24,14,20,11,16,8,13,6,10,4,8,3,6,10,7,12,9,15],
[10,13,9,15,11,18,13,9,14,7,11,5,8,3,6,2,4,1,3,0,2,0,0,1,0,0,3,1,0],
[10,30,60,100,80,130,110,160,140,120,150,110,130,95,115,85,100,75,90,65,80,95,85,110,100,130,115,150,135,170,160,190],
[10,20,40,70,110,95,150,130,190,170,220,200,180,210,170,190,150,165,130,145,115,130,100,115,90,105,120,110,135,125,150,140,170],
[10,45,90,70,120,100,150,125,105,130,95,110,80,95,70,85,60,75,52,65,45,58,40,52,36,48,60,54,70,64,80,75,92,86],
[10,16,30,50,42,70,60,95,80,120,105,150,130,115,140,110,125,100,115,90,105,80,95,110,100,125,115,140,130,160,150,180,170],
[10,55,100,160,130,200,170,240,210,180,220,170,190,150,170,135,150,120,135,105,120,95,110,85,100,120,110,140,125,160,145,180,165,200],
[10,25,50,40,75,62,100,85,70,90,65,78,55,66,48,58,40,50,35,44,30,38,26,34,40,36,46,42,54,50,62,58,70],
[10,35,70,120,190,160,240,210,280,250,220,260,210,230,190,210,170,185,150,165,135,150,125,140,160,150,175,165,195,185,215],
[10,14,25,40,34,55,46,75,62,95,80,120,100,85,105,78,92,70,82,62,74,56,66,50,60,72,66,80,74,90,84,100],
[10,40,80,65,110,90,140,120,100,125,90,105,78,92,68,80,60,70,52,62,46,56,68,62,76,70,86,80,96,90,110],
[10,20,35,60,50,80,68,110,92,150,125,190,160,140,170,130,150,115,135,100,120,145,130,160,145,175,160,190,175,210]
];
// additional mid-size countries in the hundreds-to-thousands band, one value every UP_STEP days
const UP_STEP = 5;
const greyUpper = [
[10,40,150,400,700,900,1000,950,900,800,750,700,650,700,800,900,1000,1100,1200,1300,1350,1400,1500,1600,1700,1800,1900,2000,2100],
[10,30,90,200,350,500,600,650,620,580,520,480,450,420,450,500,560,620,700,780,850,900,950,1000,1050,1100,1150,1200],
[10,60,300,900,1500,1800,1600,1300,1000,800,600,500,450,400,380,400,450,520,600,700,800,900,1000,1100,1150,1200,1300,1400,1500],
[10,25,60,120,220,350,500,700,900,1100,1300,1500,1700,1800,1900,2000,2100,2000,1900,1800,1700,1700,1800,1900,2000,2200,2400,2600],
[10,50,200,500,800,1000,900,700,550,420,350,300,280,260,270,300,340,380,420,450,480,500,520,540,560],
[10,20,50,90,150,220,300,380,450,520,600,680,760,850,950,1050,1150,1250,1350,1400,1450,1500,1520,1550],
[10,35,120,300,500,650,700,680,600,500,420,360,320,300,320,360,420,500,600,720,850,1000,1150,1300,1450,1600],
[10,15,35,70,130,200,280,330,380,420,460,500,540,580,620,660,640,620,600,580,560,540,520,500],
[10,45,180,450,700,800,750,650,550,450,380,320,280,250,230,220,210,200,190,180,170,165,160,160,165,170],
[10,30,100,250,450,650,800,900,950,1000,1000,950,900,850,800,760,720,700,690,700,720,740,760,780,800,820,850],
[10,20,45,85,140,200,260,320,380,450,520,600,650,700,720,700,680,650,620,600,580,560,550,540,530],
[10,70,350,1000,1800,2300,2200,1900,1600,1300,1000,800,700,600,550,500,480,470,480,500,520,550,600,650,700,750,800],
[10,25,70,150,260,380,500,600,680,740,780,800,790,760,720,690,660,640,620,610,600,600,610,620,630],
[10,40,130,280,420,500,520,480,420,360,300,260,230,210,200,210,230,260,300,340,380,420,460,500,540,580],
[10,18,40,80,140,220,320,440,580,720,860,1000,1150,1300,1450,1600,1750,1900,2050,2200,2300,2400,2500]
];

const GREY = '#bcb2a9';
const COLORS = {'United States':'#e9578a','European Union':'#174e8d','United Kingdom':'#9fbe45','Sweden':'#2896d3'};
const FONT = 'Roboto';
const T = v => Math.log10(v + 1);
const fmt = n => n.toLocaleString('en-US');
const toPairs = (vals, step) => vals.map((v, i) => [i * step, v]);

const series = [];
const greyAll = [...greyLarge, ...greyMid, ...greySmall,
  ...greyJagged.map(v => toPairs(v, JAG_STEP)),
  ...greyLow.map(v => toPairs(v, JAG_STEP2)),
  ...greyUpper.map(v => toPairs(v, UP_STEP))];
greyAll.forEach(line => {
  series.push({type:'line', data: line.map(p => [p[0], T(p[1])]), symbol:'none', silent:true,
    lineStyle:{color:GREY, width:1}, z:2, animation:false});
});
const hl = {'United Kingdom':ukData,'Sweden':seData,'European Union':euData,'United States':usData};
highlightNames.forEach((name, i) => {
  const d = hl[name];
  const c = COLORS[name];
  series.push({type:'line', name, data: d.map(p => [p[0], T(p[1])]), symbol:'none', silent:true,
    lineStyle:{color:c, width:3}, z:10+i, animation:false});
  const last = d[d.length-1];
  series.push({type:'scatter', data:[[last[0], T(last[1])]], symbol:'circle', symbolSize:7, silent:true,
    itemStyle:{color:c}, z:20+i, animation:false,
    label:{show:true, position:'right', distance:6, formatter: name, color:c, fontSize:13.5,
      fontFamily:FONT, textBorderColor:'#fff', textBorderWidth:3}});
});

const chart = echarts.init(document.getElementById('c'), null, {renderer:'canvas'});
chart.setOption({
  backgroundColor:'#ffffff',
  animation:false,
  textStyle:{fontFamily:FONT},
  title:[
    {text:'New confirmed cases of Covid-19', left:1, top:9, textStyle:{fontSize:20.2, fontWeight:'normal', color:'#33302e', fontFamily:FONT}},
    {text:'Seven-day rolling average of new cases, by number of days since 10 average daily cases first recorded', left:1, top:48, textStyle:{fontSize:15.2, fontWeight:'normal', color:'#66605c', fontFamily:FONT}},
    {text:'Source: Financial Times analysis of data from the European Centre for Disease Prevention and Control,\nthe Covid Tracking Project, the UK Dept of Health & Social Care and the Spanish Ministry of Health.\nData updated August 7 2020 11.42am BST. Interactive version: ft.com/covid19', left:1, top:486, textStyle:{fontSize:12, lineHeight:18.5, fontWeight:'normal', color:'#66605c', fontFamily:FONT}},
    {text:'© FT', left:1, top:541, textStyle:{fontSize:12, fontStyle:'italic', fontWeight:'normal', color:'#66605c', fontFamily:FONT}}
  ],
  graphic:[
    {type:'rect', left:0, top:0, shape:{width:60, height:4}, style:{fill:'#000'}},
    {type:'text', left:167, top:464, style:{text:'Number of days since 10 average daily cases first recorded', fill:'#66605c', font:'14px Roboto'}}
  ],
  grid:{left:62, right:17, top:85, bottom:117},
  xAxis:{type:'value', min:0, max:220, interval:20,
    axisLine:{show:true, lineStyle:{color:'#7a736d', width:1}},
    axisTick:{show:false},
    axisLabel:{color:'#66605c', fontSize:13.5, margin:6, fontFamily:FONT,
      formatter: v => xTicks.includes(v) ? String(v) : ''},
    splitLine:{show:true, showMinLine:false, showMaxLine:false, lineStyle:{color:'#ece3da', width:1}}
  },
  yAxis:{type:'value', min:0, max:4.82,
    axisLine:{show:false},
    axisTick:{show:false, customValues: yTicks.map(T)},
    axisLabel:{color:'#66605c', fontSize:13.5, margin:12, fontFamily:FONT,
      customValues: yTicks.map(T),
      formatter: v => { const t = yTicks.find(t => Math.abs(T(t) - v) < 1e-6); return t === undefined ? '' : fmt(t); }},
    splitLine:{show:true, lineStyle:{color:'#ece3da', width:1}}
  },
  series
});
</script></body></html>
